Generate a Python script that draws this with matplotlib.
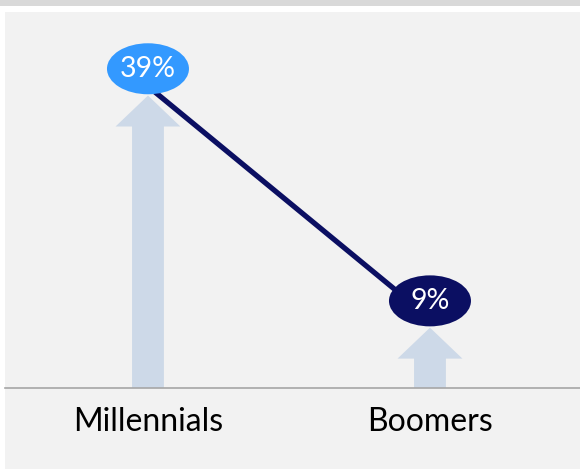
import matplotlib
matplotlib.use("Agg")
import matplotlib.pyplot as plt
from matplotlib.patches import Ellipse, FancyArrow, Rectangle
from matplotlib.transforms import ScaledTranslation

categories = ["Millennials", "Boomers"]
values = [39, 9]
labels = ["39%", "9%"]
bubble_colors = ["#3399ff", "#0b0f62"]

NAVY = "#0b0f62"
ARROW = "#cdd9e8"
PANEL = "#f2f2f2"

plt.rcParams['font.family'] = ['Lato', 'DejaVu Sans']

W, H = 580, 469
fig = plt.figure(figsize=(W / 100, H / 100), dpi=100)
fig.patch.set_facecolor("white")
# top gray band and panel
fig.patches.append(Rectangle((0, 1 - 6 / H), 1, 6 / H, transform=fig.transFigure,
                             facecolor="#d9d9d9", edgecolor="none", zorder=-10))
fig.patches.append(Rectangle((5 / W, 0), 1 - 5 / W, 1 - 12 / H, transform=fig.transFigure,
                             facecolor=PANEL, edgecolor="none", zorder=-10))

ax = fig.add_axes([5 / W, (H - 388) / H, 1 - 5 / W, (388 - 12) / H])
ax.set_facecolor("none")
ax.set_xlim(-0.507, 1.532)
ax.set_ylim(0, 48.6)

x = list(range(len(categories)))

# arrows
for xi, v in zip(x, values):
    ax.add_patch(FancyArrow(xi, 0, 0, v - 1.2, width=0.113, head_width=0.23,
                            head_length=4.0, length_includes_head=True,
                            facecolor=ARROW, edgecolor="none", zorder=2))

# line
ax.plot(x, values, color=NAVY, lw=3.8, solid_capstyle="round", zorder=3)

# bubbles
for xi, v, lab, c in zip(x, values, labels, bubble_colors):
    tr = fig.dpi_scale_trans + ScaledTranslation(xi, v, ax.transData)
    ax.add_patch(Ellipse((0, 0.175), 0.82, 0.51, transform=tr, facecolor=c,
                         edgecolor="none", zorder=4, clip_on=False))
    ax.text(0, 0.175, lab, transform=tr, ha="center", va="center",
            color="white", fontsize=20.5, zorder=5)

ax.set_xticks(x)
ax.set_xticklabels(categories, fontsize=23, color="black")
ax.tick_params(axis="x", length=0, pad=14)
ax.set_yticks([])
for s in ["top", "left", "right"]:
    ax.spines[s].set_visible(False)
ax.spines["bottom"].set_color("#a6a6a6")
ax.spines["bottom"].set_linewidth(1.2)

fig.savefig("out.png", dpi=100)
